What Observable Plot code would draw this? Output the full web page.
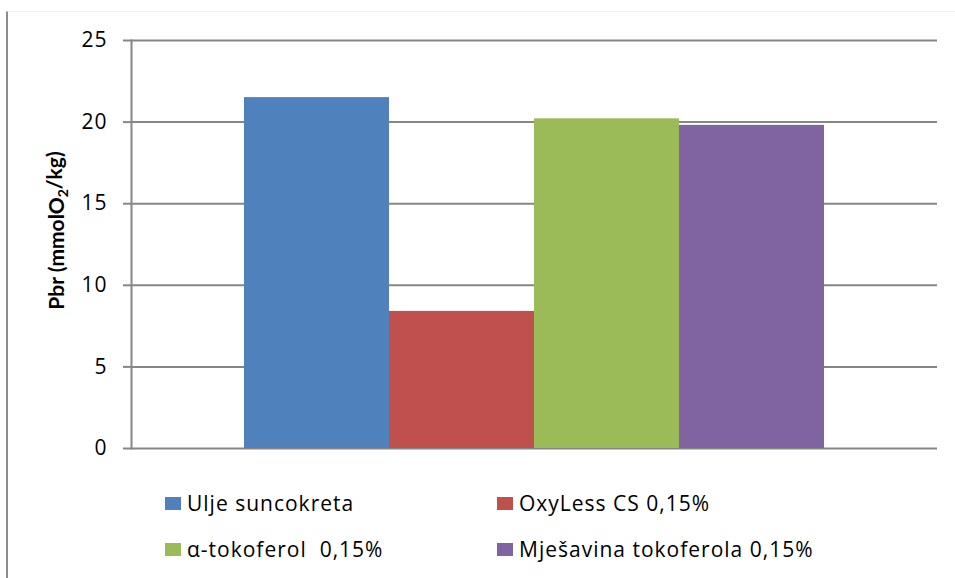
<!DOCTYPE html>
<html>
<head>
<meta charset="utf-8">
<script src="https://cdn.jsdelivr.net/npm/d3@7"></script>
<script src="https://cdn.jsdelivr.net/npm/@observablehq/plot@0.6"></script>
<style>
  html, body { margin: 0; padding: 0; background: #fff; }
  #wrap { position: relative; width: 955px; height: 578px; overflow: hidden; font-family: "Open Sans", Lato, sans-serif; }
  #border { position: absolute; left: 6px; top: 11px; right: -2px; bottom: -2px; border-left: 2px solid #8c8c8c; border-top: 1px solid #efefef; }
  #chart { position: absolute; left: 0; top: 0; }
  .lg { position: absolute; height: 30px; font-size: 21px; color: #000; white-space: pre; letter-spacing: 1px; }
  .lg .sw { position: absolute; left: 0; top: 9px; width: 16px; height: 13px; }
  .lg .tx { position: absolute; left: 22px; top: 0; line-height: 30px; }
</style>
</head>
<body>
<div id="wrap">
  <div id="border"></div>
  <div id="chart"></div>
  <div id="legend"></div>
</div>
<script>
const series = ["Ulje suncokreta", "OxyLess CS 0,15%", "α-tokoferol  0,15%", "Mješavina tokoferola 0,15%"];
const values = [21.5, 8.4, 20.2, 19.8];
const colors = ["#4F81BD", "#C0504D", "#9BBB59", "#8064A2"];
const yTicks = [0, 5, 10, 15, 20, 25];
const yLabel = "Pbr (mmolO2/kg)";

const data = series.map((s, i) => ({series: s, value: values[i]}));

const chart = Plot.plot({
  width: 955,
  height: 470,
  marginTop: 40,
  marginBottom: 22,
  marginLeft: 131,
  marginRight: 18,
  style: {fontFamily: "'Open Sans', Lato, sans-serif", fontSize: "21px", color: "#000", background: "transparent"},
  x: {domain: series, paddingInner: 0, paddingOuter: 0.765, axis: null},
  y: {domain: [0, 25], axis: null},
  color: {domain: series, range: colors},
  marks: [
    Plot.ruleY(yTicks, {stroke: "#868686", strokeWidth: 2}),
    Plot.barY(data, {x: "series", y: "value", fill: "series", inset: 0}),
    Plot.axisY({ticks: yTicks, tickSize: 8, tickPadding: 16, stroke: "#868686", strokeWidth: 2, strokeOpacity: 1, label: null, fontSize: 21, fill: "#000"}),
    Plot.frame({anchor: "left", stroke: "#868686", strokeWidth: 2}),
    Plot.text([yLabel], {frameAnchor: "left", textAnchor: "middle", dx: -74, dy: -14, rotate: -90, fontWeight: "bold", fontSize: 21, fill: "#000", fontFamily: "Lato, 'Open Sans', sans-serif"})
  ]
});
document.getElementById("chart").appendChild(chart);

// tick label spacing
d3.select(chart).selectAll("g[aria-label='y-axis tick label'] text").style("letter-spacing", "1px");

// subscript in y-axis label
d3.select(chart).selectAll("text").filter(function() { return this.textContent === yLabel; })
  .each(function() {
    const t = d3.select(this);
    t.text("");
    t.append("tspan").text("Pbr (mmolO");
    t.append("tspan").attr("dy", "0.3em").attr("font-size", "14px").text("2");
    t.append("tspan").attr("dy", "-0.3em").text("/kg)");
  });

// legend
const legend = document.getElementById("legend");
const colX = [165, 497];
const rowY = [503, 549];
series.forEach((s, i) => {
  const d = document.createElement("div");
  d.className = "lg";
  d.style.left = colX[i % 2] + "px";
  d.style.top = (rowY[Math.floor(i / 2)] - 15) + "px";
  const sw = document.createElement("span");
  sw.className = "sw";
  sw.style.background = colors[i];
  const tx = document.createElement("span");
  tx.className = "tx";
  tx.textContent = s;
  d.appendChild(sw);
  d.appendChild(tx);
  legend.appendChild(d);
});
</script>
</body>
</html>
